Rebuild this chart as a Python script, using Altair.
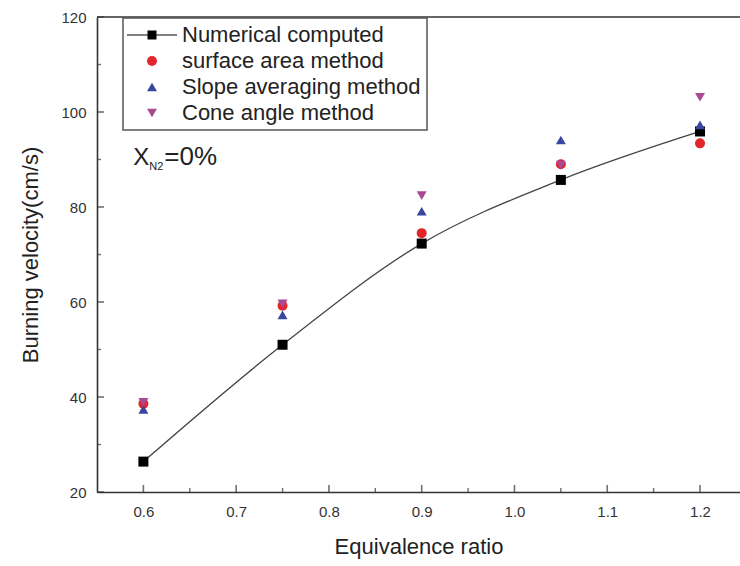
import altair as alt
import pandas as pd

# Equivalence ratio and burning velocities (cm/s)
phi = [0.6, 0.75, 0.9, 1.05, 1.2]
numerical = [26.4, 51.0, 72.3, 85.7, 95.9]
surface_area = [38.6, 59.2, 74.5, 89.0, 93.4]
slope_avg = [37.4, 57.3, 79.1, 94.1, 97.3]
cone_angle = [38.9, 59.6, 82.4, 88.8, 103.1]

series_names = ["Numerical computed", "surface area method",
                "Slope averaging method", "Cone angle method"]
series_colors = ["#000000", "#e3262b", "#3a46a0", "#a84a92"]
# first legend entry: a short line with a square on it
line_square = "M-5,-0.12H5V0.12H-5Z M-0.9,-0.9H0.9V0.9H-0.9Z"
series_shapes = [line_square, "circle", "triangle-up", "triangle-down"]

x_major = [0.6, 0.7, 0.8, 0.9, 1.0, 1.1, 1.2]
x_minor = [0.65, 0.75, 0.85, 0.95, 1.05, 1.15]
y_major = [20, 40, 60, 80, 100, 120]
y_minor = [30, 50, 70, 90, 110]

X_DOMAIN = [0.55, 1.2431]
Y_DOMAIN = [20, 120]
FONT = "Liberation Sans"

xs = alt.Scale(domain=X_DOMAIN, nice=False, zero=False)
ys = alt.Scale(domain=Y_DOMAIN, nice=False, zero=False)

x_axis = alt.Axis(values=x_major, format=".1f", tickSize=0, labelPadding=12,
                  labelFontSize=15, labelFont=FONT, labelColor="#333",
                  domainColor="#333", domainWidth=1.6, grid=False,
                  title="Equivalence ratio", titleFont=FONT, titleFontSize=22,
                  titleFontWeight="normal", titleColor="#222", titlePadding=17)
y_axis = alt.Axis(values=y_major, tickSize=0, labelPadding=11,
                  labelFontSize=15, labelFont=FONT, labelColor="#333",
                  domainColor="#333", domainWidth=1.6, grid=False,
                  title="Burning velocity(cm/s)", titleFont=FONT,
                  titleFontSize=22, titleFontWeight="normal",
                  titleColor="#222", titlePadding=18)


def X(field=None, datum=None):
    if datum is not None:
        return alt.X(datum=datum, type="quantitative", scale=xs, axis=x_axis)
    return alt.X(field, type="quantitative", scale=xs, axis=x_axis)


def Y(field=None, datum=None):
    if datum is not None:
        return alt.Y(datum=datum, type="quantitative", scale=ys, axis=y_axis)
    return alt.Y(field, type="quantitative", scale=ys, axis=y_axis)


num_df = pd.DataFrame({"phi": phi, "v": numerical})

rows = []
for name, vals in [(series_names[1], surface_area),
                   (series_names[2], slope_avg),
                   (series_names[3], cone_angle)]:
    for p, v in zip(phi, vals):
        rows.append({"phi": p, "v": v, "series": name})
meas_df = pd.DataFrame(rows)

legend = alt.Legend(title=None, orient="none", legendX=26, legendY=1,
                    strokeColor="#555", fillColor="white",
                    padding=6, rowPadding=4, symbolOffset=12, labelOffset=19,
                    labelFont=FONT, labelFontSize=22, labelColor="#222",
                    symbolStrokeWidth=0, symbolSize=100, labelLimit=400)

curve = alt.Chart(num_df).mark_line(
    interpolate="monotone", color="#444", strokeWidth=1.3
).encode(x=X("phi"), y=Y("v"))

squares = alt.Chart(num_df).mark_point(
    shape="square", filled=True, color="#000", size=100, opacity=1
).encode(x=X("phi"), y=Y("v"))

measured = alt.Chart(meas_df).mark_point(
    filled=True, size=100, opacity=1, strokeWidth=0
).encode(
    x=X("phi"), y=Y("v"),
    color=alt.Color("series:N", scale=alt.Scale(domain=series_names,
                                                range=series_colors),
                    legend=legend),
    shape=alt.Shape("series:N", scale=alt.Scale(domain=series_names,
                                                range=series_shapes),
                    legend=legend),
)

# inward-pointing axis ticks
xmaj = alt.Chart(pd.DataFrame({"t": x_major})).mark_tick(
    orient="vertical", size=7, thickness=1.6, yOffset=-3.5, color="#333"
).encode(x=X("t"), y=Y(datum=20))
xmin = alt.Chart(pd.DataFrame({"t": x_minor})).mark_tick(
    orient="vertical", size=4, thickness=1.4, yOffset=-2, color="#333"
).encode(x=X("t"), y=Y(datum=20))
ymaj = alt.Chart(pd.DataFrame({"t": y_major})).mark_tick(
    orient="horizontal", size=7, thickness=1.6, xOffset=3.5, color="#333"
).encode(y=Y("t"), x=X(datum=X_DOMAIN[0]))
ymin = alt.Chart(pd.DataFrame({"t": y_minor})).mark_tick(
    orient="horizontal", size=4, thickness=1.4, xOffset=2, color="#333"
).encode(y=Y("t"), x=X(datum=X_DOMAIN[0]))

# top frame line
top = alt.Chart(pd.DataFrame({"v": [Y_DOMAIN[1]]})).mark_rule(
    color="#333", strokeWidth=1.6
).encode(y=Y("v"))

# X_N2 = 0% label
lab_x, lab_y = 0.5892, 88.74
x_txt = alt.Chart().mark_text(
    text="X", align="left", baseline="alphabetic", font=FONT, fontSize=24,
    color="#222"
).encode(x=X(datum=lab_x), y=Y(datum=lab_y))
sub_txt = alt.Chart().mark_text(
    text="N2", align="left", baseline="alphabetic", font=FONT, fontSize=11,
    color="#222", dx=16, dy=5
).encode(x=X(datum=lab_x), y=Y(datum=lab_y))
eq_txt = alt.Chart().mark_text(
    text="=0%", align="left", baseline="alphabetic", font=FONT, fontSize=26,
    color="#222", dx=31
).encode(x=X(datum=lab_x), y=Y(datum=lab_y))

chart = alt.layer(
    top, xmaj, xmin, ymaj, ymin, curve, squares, measured,
    x_txt, sub_txt, eq_txt
).properties(
    width=643, height=475,
    autosize=alt.AutoSizeParams(type="none"),
    padding={"left": 97, "top": 17, "right": 0, "bottom": 74},
    background="white",
).configure_view(stroke=None).configure_legend(strokeWidth=1.5)

chart.save("out.html", embed_options={"renderer": "svg", "actions": False})
